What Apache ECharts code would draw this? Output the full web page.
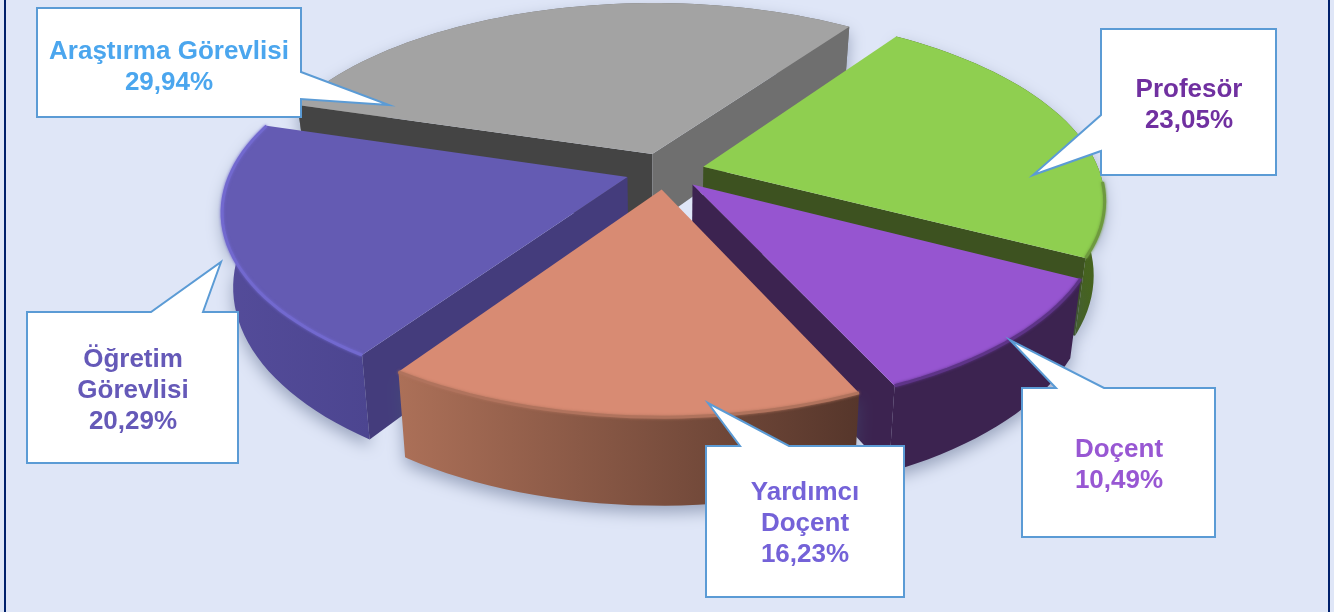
<!DOCTYPE html>
<html><head><meta charset="utf-8">
<style>html,body{margin:0;padding:0;background:#DFE6F7}#c{width:1334px;height:612px}</style>
<script src="https://cdn.jsdelivr.net/npm/echarts@6/dist/echarts.min.js"></script>
</head><body><div id="c"></div>
<script>
// data, clockwise from the left edge of the grey slice
const categories = ['Araştırma Görevlisi', 'Profesör', 'Doçent', 'Yardımcı\nDoçent', 'Öğretim\nGörevlisi'];
const shares = [29.94, 23.05, 10.49, 16.23, 20.29];
const drawOrder = [0, 1, 2, 4, 3];

// styles, one entry per category
const topColors = ['#A3A3A3', '#8FCF50', '#9655D0', '#D88B73', '#645BB3'];
const wallLeft = ['#707070', '#3F5A20', '#3C2350', '#AC7058', '#544C9A'];
const wallRight = ['#707070', '#46631F', '#3C2350', '#56362B', '#4C4590'];
const cutStart = ['#6F6F6F', '#3D5220', '#3C2350', '#5A3A2E', '#443C7C'];
const cutEnd = ['#444444', '#3D5220', '#3C2350', '#A86F58', '#443C7C'];
const rimColors = ['#A3A3A3', '#6E9A3E', '#5E3488', '#B0735D', '#7269CF'];
const rimFrom = [2, 0.05, 0, 0, -0.42];
const textColors = ['#4BA6EE', '#7030A0', '#9857D3', '#7462D8', '#6559B8'];

// projection of the tilted disc
const CX = 665, CY = 171, R = 396, DEPTH = 182, K = 0.17, WALL = 72, BOTTOM_SHRINK = 0.975;
const START_ANGLE = -73, EXPLODE = 0.1;

// callout outlines (annotation layout)
const callouts = [
  {outline: [[37,8],[301,8],[301,72],[389,105],[301,99],[301,117],[37,117]], text: [169, 67]},
  {outline: [[1101,29],[1276,29],[1276,175],[1101,175],[1101,151],[1033,175],[1101,115]], text: [1189, 105]},
  {outline: [[1022,388],[1056,388],[1010,340],[1104,388],[1215,388],[1215,537],[1022,537]], text: [1119, 465]},
  {outline: [[706,446],[740,446],[708,403],[789,446],[904,446],[904,597],[706,597]], text: [805, 524]},
  {outline: [[27,312],[151,312],[221,262],[203,312],[238,312],[238,463],[27,463]], text: [133, 391]}
];

const rad = d => d * Math.PI / 180;
const total = shares.reduce((a, b) => a + b, 0);
const spans = [];
shares.reduce((acc, v) => { const a = acc + v / total * 360; spans.push([acc, a]); return a; }, START_ANGLE);

function project(X, Y, low) {
  const w = 1 - K * Y;
  let x = R * X / w, y = DEPTH * Y / w;
  if (low) { x *= BOTTOM_SHRINK; y += WALL / w; }
  return [CX + x, CY + y];
}
function renderSlice(params, api) {
  const i = api.value(0);
  const a0 = spans[i][0], a1 = spans[i][1], mid = rad((a0 + a1) / 2);
  const ox = EXPLODE * Math.sin(mid), oy = -EXPLODE * Math.cos(mid);
  const at = (deg, r, low) => project(ox + r * Math.sin(rad(deg)), oy - r * Math.cos(rad(deg)), low);
  const arcT = [], arcB = [], rim = [];
  for (let d = a0; ; d += 2) {
    const g = Math.min(d, a1);
    arcT.push(at(g, 1, false));
    arcB.push(at(g, 1, true));
    if (-Math.cos(rad(g)) > rimFrom[i]) rim.push(at(g, 1, false));
    if (g === a1) break;
  }
  const tipT = at(0, 0, false), tipB = at(0, 0, true);
  const M = at((a0 + a1) / 2, 1, false);
  const visible = C => {
    const dx = C[0] - tipT[0], dy = C[1] - tipT[1];
    return dx * (M[1] - tipT[1]) - dy * (M[0] - tipT[0]) > 0 !== dx > 0;
  };
  const kids = [];
  kids.push({type: 'polygon', shape: {points: arcT.concat(arcB.slice().reverse())},
    style: {fill: {type: 'linear', x: 0, y: 0, x2: 1, y2: 0, colorStops: [{offset: 0, color: wallLeft[i]}, {offset: 1, color: wallRight[i]}]},
      shadowColor: 'rgba(70,85,120,0.45)', shadowBlur: 16, shadowOffsetY: 7}});
  const face = (end, bot, color) => {
    if (visible(end)) kids.push({type: 'polygon', shape: {points: [tipT, end, bot, tipB]}, style: {fill: color}});
  };
  face(arcT[0], arcB[0], cutEnd[i]);
  face(arcT[arcT.length - 1], arcB[arcB.length - 1], cutStart[i]);
  kids.push({type: 'polygon', shape: {points: [tipT].concat(arcT)}, style: {fill: topColors[i]}});
  if (rim.length > 1) kids.push({type: 'polyline', shape: {points: rim},
    style: {fill: null, stroke: rimColors[i], lineWidth: 3, shadowColor: rimColors[i], shadowBlur: 3}});
  return {type: 'group', children: kids};
}

const graphics = [
  {type: 'rect', shape: {x: 4, y: 0, width: 2, height: 612}, style: {fill: '#00206B'}},
  {type: 'rect', shape: {x: 1328, y: 0, width: 2, height: 612}, style: {fill: '#00206B'}}
];
callouts.forEach((c, i) => {
  graphics.push({type: 'polygon', z: 10, shape: {points: c.outline}, style: {fill: '#FFFFFF', stroke: '#5B9BD5', lineWidth: 2}});
  graphics.push({type: 'text', z: 11, x: c.text[0], y: c.text[1], style: {
    text: categories[i] + '\n' + shares[i].toFixed(2).replace('.', ',') + '%',
    fill: textColors[i], font: 'bold 26px "Liberation Sans", Arial, sans-serif',
    lineHeight: 31, align: 'center', verticalAlign: 'middle'}});
});

const chart = echarts.init(document.getElementById('c'), null, {renderer: 'canvas'});
chart.setOption({
  animation: false,
  backgroundColor: '#DFE6F7',
  graphic: graphics,
  series: [{type: 'custom', coordinateSystem: 'none', silent: true, renderItem: renderSlice,
    data: drawOrder.map(i => [i, shares[i]])}]
});
</script></body></html>
